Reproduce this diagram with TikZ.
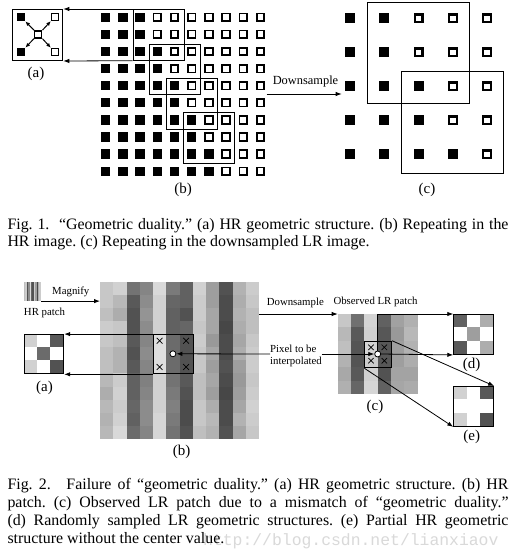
\documentclass[tikz,border=0pt]{standalone}
\usepackage{fontspec}
\setmainfont{Liberation Serif}
\newfontfamily\wmfont{Liberation Mono}
\usetikzlibrary{arrows.meta}
% #1 x0, #2 y0, #3 cell width, #4 cell height, #5 list col/{darkness per row}
\newcommand{\drawpatch}[5]{%
  \foreach \coli/\vals in {#5}{%
    \foreach \dk [count=\rowi from 0] in \vals{%
      \fill[black!\dk] ({#1+#3*\coli},{#2+#4*\rowi}) rectangle ++({#3+0.06},{#4+0.06});
    }%
  }%
}
\begin{document}
\begin{tikzpicture}[x=1pt,y=-1pt,
  arr/.style={-{Latex[length=6pt,width=4.4pt]}, line width=0.8pt},
  arrs/.style={-{Latex[length=4.5pt,width=4pt]}, line width=1pt},
  win/.style={draw, line width=0.9pt, inner sep=0pt, anchor=north west},
  lbl/.style={font=\fontsize{15}{17}\selectfont, inner sep=0pt},
  sml/.style={font=\fontsize{10.8}{11.4}\selectfont, inner sep=0pt},
  captxt/.style={font=\fontsize{15.9}{17}\selectfont\frenchspacing, inner sep=0pt, anchor=base west},
  bsq/.style={fill=black, minimum size=8.5pt, inner sep=0pt},
  wsq/.style={fill=white, draw=black, line width=1.4pt, minimum size=7.1pt, inner sep=0pt},
  xm/.style={line width=0.7pt},
  dotc/.style={circle, draw, fill=white, line width=0.8pt, minimum size=6pt, inner sep=0pt},
  pbox/.style={draw, line width=0.9pt, inner sep=0pt, anchor=north west},
  area/.style={inner sep=0pt, anchor=north west}
]
\useasboundingbox (0,0) rectangle (515,549);
\fill[white] (0,0) rectangle (515,549);

% ---------------- Fig. 1 (b)
\foreach \rowi/\nb in {0/3,1/3,2/4,3/4,4/5,5/5,6/6,7/6,8/7,9/7}{
  \foreach \coli in {0,...,9}{
    \pgfmathsetmacro\cx{105.7+17.2*\coli}
    \pgfmathsetmacro\cy{17.3+17.1*\rowi}
    \ifnum\coli<\nb
      \fill (\cx-4.65,\cy-4.65) rectangle (\cx+4.65,\cy+4.65);
    \else
      \draw[line width=1.7pt, fill=white] (\cx-3.8,\cy-3.8) rectangle (\cx+3.8,\cy+3.8);
    \fi
  }
}
\node[win, minimum width=51, minimum height=50.8] (w0) at (132.5,9) {};
\node[win, minimum width=51, minimum height=50.8] (w1) at (149.0,43.5) {};
\node[win, minimum width=51, minimum height=50.8] (w2) at (166.2,77.7) {};
\node[win, minimum width=51, minimum height=50.8] (w3) at (183.4,111.9) {};

% ---------------- Fig. 1 (a)
\node[draw, line width=1.2pt, minimum width=50, minimum height=50.8, inner sep=0pt, anchor=north east] (fa) at (63.3,9) {};
\node[bsq] (atl) at (21,17) {};
\node[wsq] (atr) at (55,17) {};
\node[bsq] (abl) at (21,52) {};
\node[wsq] (abr) at (55,52) {};
\node[wsq] (ac) at (38.2,34.4) {};
\draw[arrs] (ac.north west) -- (atl.south east);
\draw[arrs] (ac.north east) -- (atr.south west);
\draw[arrs] (ac.south west) -- (abl.north east);
\draw[arrs] (ac.south east) -- (abr.north west);
\draw[arr] (w0.north west) -- (fa.north east);
\draw[arr] (w0.south west) -- (fa.south east);

\node[lbl] (la1) at (36,74) {(a)};
\node[lbl] (lb1) at (183,190) {(b)};
\node[lbl] (lc1) at (427,190) {(c)};

% ---------------- Fig. 1 (c)
\foreach \rowi/\nb in {0/2,1/2,2/3,3/3,4/4}{
  \foreach \coli in {0,...,4}{
    \pgfmathsetmacro\cx{350.3+34.1*\coli}
    \pgfmathsetmacro\cy{18.4+34*\rowi}
    \ifnum\coli<\nb
      \fill (\cx-5,\cy-5) rectangle (\cx+5,\cy+5);
    \else
      \draw[line width=2.1pt, fill=white] (\cx-3.95,\cy-3.95) rectangle (\cx+3.95,\cy+3.95);
    \fi
  }
}
\node[win, minimum width=102, minimum height=101.6] (wa) at (367,1.7) {};
\node[win, minimum width=102, minimum height=102.3] (wb) at (401,71) {};

\coordinate (d1s) at (266.7,94);
\coordinate (d1e) at (341.7,94);
\draw[arr] (d1s) -- (d1e);
\node[font=\fontsize{12.4}{14}\selectfont, inner sep=0pt] (d1t) at (305.5,81.7) {Downsample};

% ---------------- Fig. 1 caption
\node[captxt] (c1a) at (7.3,229.3) {\makebox[501pt][s]{Fig. 1.\hspace{0.3em} “Geometric duality.” (a) HR geometric structure. (b) Repeating in the}};
\node[captxt] (c1b) at (7.3,246) {HR image. (c) Repeating in the downsampled LR image.};

% ---------------- Fig. 2 HR patch icon
\drawpatch{24}{281.7}{1.39}{19}{0/{25},1/{20},2/{68},3/{45},4/{14},5/{60},6/{68},7/{20},8/{38},9/{72},10/{32},11/{20}}
\node[area, minimum width=16.7, minimum height=19] (hr) at (24,281.7) {};
\node[sml] (mag) at (70.8,291.7) {Magnify};
\node[sml] (hrp) at (44.5,313.3) {HR patch};

% ---------------- Fig. 2 (b)
\drawpatch{100}{281.7}{13.25}{13.1}{
0/{22,22,25,20,22,25,25,28,32,28,30,28},
1/{18,28,32,22,25,30,30,20,18,20,18,15},
2/{55,65,68,68,65,68,65,62,62,60,62,58},
3/{48,45,42,45,48,45,48,50,48,45,45,48},
4/{15,18,18,18,13,13,13,18,18,18,16,16},
5/{52,60,62,62,58,58,58,55,52,50,52,55},
6/{62,62,68,60,68,68,68,65,68,70,70,68},
7/{18,20,20,22,20,22,22,25,25,22,22,25},
8/{38,38,35,35,40,35,38,35,38,32,28,30},
9/{68,70,70,72,70,70,68,70,72,70,70,68},
10/{30,32,30,32,35,32,38,40,38,35,30,35},
11/{20,22,25,25,22,20,20,22,20,18,20,22}}
\node[area, minimum width=159, minimum height=157.2] (bg) at (100,281.7) {};
\draw[arr] (hr.south east) -- (bg.west |- hr.south east);
\node[pbox, minimum width=39.75, minimum height=39.3] (bw) at (153,334.1) {};
\foreach \px/\py in {159.6/340.7,186.1/340.7,159.6/366.9,186.1/366.9}
  \draw[xm] (\px-2.9,\py-2.9) -- (\px+2.9,\py+2.9) (\px-2.9,\py+2.9) -- (\px+2.9,\py-2.9);
\node[dotc] (bc) at (172.9,353.8) {};

% ---------------- Fig. 2 (a)
\drawpatch{24}{334.1}{13.1}{13.1}{0/{18,0,18},1/{0,58,0},2/{65,0,68}}
\node[pbox, minimum width=39.3, minimum height=39.3] (fa2) at (24,334.1) {};
\draw[arr] (bw.north west) -- (fa2.north east);
\draw[arr] (bw.south west) -- (fa2.south east);
\node[lbl] (la2) at (44.5,387.5) {(a)};
\node[lbl] (lb2) at (181.7,451.7) {(b)};

% ---------------- Fig. 2 (c)
\drawpatch{337.7}{314}{13.33}{13.33}{
0/{22,28,25,30,34,31},
1/{56,65,67,67,65,60},
2/{17,18,17,20,18,16},
3/{62,66,66,66,68,62},
4/{37,40,38,38,36,35},
5/{31,28,30,32,36,33}}
\node[area, minimum size=80] (cg) at (337.7,314) {};
\node[pbox, minimum width=26.67, minimum height=26.67] (cw) at (364.4,340.7) {};
\foreach \px/\py in {371/347.3,384.3/347.3,371/360.7,384.3/360.7}
  \draw[xm] (\px-2.7,\py-2.7) -- (\px+2.7,\py+2.7) (\px-2.7,\py+2.7) -- (\px+2.7,\py-2.7);
\node[dotc] (cc) at (377.7,354) {};
\draw[arr] (bg.east |- cg.north west) -- (cg.north west);
\node[sml] (d2t) at (295.3,303.3) {Downsample};
\node[sml] (obs) at (375.5,302.3) {Observed LR patch};
\node[lbl] (lc2) at (375,406.7) {(c)};

% Pixel to be interpolated
\node[sml, anchor=base west] (pix1) at (270,352.9) {Pixel to be};
\node[sml, anchor=base west] (pix2) at (270,364.3) {interpolated};
\coordinate (pl) at (270,354);
\coordinate (pr) at (321.7,354);
\draw[arr] (pl) -- (bc.east);
\draw[arr] (pr) -- (cc.west);

% ---------------- Fig. 2 (d), (e)
\drawpatch{453.3}{314}{13.33}{13.33}{0/{62,0,65},1/{0,38,0},2/{32,0,32}}
\node[pbox, minimum size=40] (fd) at (453.3,314) {};
\drawpatch{453.3}{386}{13.33}{13.33}{0/{18,0,18},1/{0,0,0},2/{65,0,68}}
\node[pbox, minimum size=40] (fe) at (453.3,386) {};
\draw[arr] (cc.north) |- (fd.north west);
\draw[arr] (cc.east) -- (fd.south west);
\draw[arr] (cw.north east) -- (fe.north east);
\draw[arr] (cw.south west) -- (fe.south west);
\node[lbl] (ld2) at (471.7,365) {(d)};
\node[lbl] (le2) at (471.7,437.3) {(e)};

% ---------------- Fig. 2 caption
\node[anchor=base west, inner sep=0pt, font=\wmfont\fontsize{16.4}{18}\selectfont, text=black!15] (wm) at (203,545) {http://blog.csdn.net/lianxiaov};
\node[captxt] (c2a) at (7.3,489) {\makebox[501pt][s]{Fig. 2.\hspace{0.6em} Failure of “geometric duality.” (a) HR geometric structure. (b) HR}};
\node[captxt] (c2b) at (7.3,507.3) {\makebox[501pt][s]{patch. (c) Observed LR patch due to a mismatch of “geometric duality.”}};
\node[captxt] (c2c) at (7.3,525.7) {\makebox[501pt][s]{(d) Randomly sampled LR geometric structures. (e) Partial HR geometric}};
\node[captxt] (c2d) at (7.3,543.3) {structure without the center value.};
\end{tikzpicture}
\end{document}
